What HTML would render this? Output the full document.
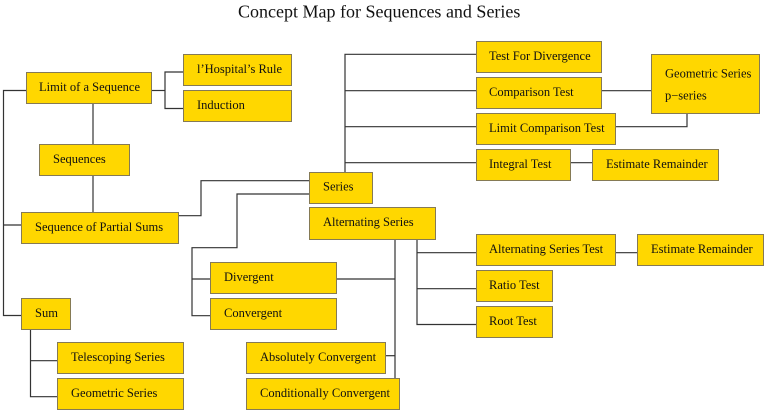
<!DOCTYPE html>
<html><head><meta charset="utf-8"><style>
html,body{margin:0;padding:0;background:#fff;}
svg{display:block;}
text{font-family:"Liberation Serif","Times New Roman",serif;fill:#111;}
.b{fill:#ffd700;stroke:#857a55;stroke-width:1;}
.l{stroke:#333;stroke-width:1.2;fill:none;}
.t{font-size:12.5px;}
</style></head><body>
<svg width="767" height="413" viewBox="0 0 767 413" xmlns="http://www.w3.org/2000/svg">
<text x="238" y="17.5" style="font-size:18px">Concept Map for Sequences and Series</text>

<g class="l">
<polyline points="26,90.5 3.5,90.5 3.5,315.5 21,315.5"/>
<line x1="3.5" y1="225" x2="21" y2="225"/>
<polyline points="152,90.5 165,90.5"/>
<polyline points="183,72 165,72 165,108.5 183,108.5"/>
<line x1="93" y1="104" x2="93" y2="144"/>
<line x1="93" y1="176" x2="93" y2="212"/>
<polyline points="179,215.7 201,215.7 201,180.7 309,180.7"/>
<polyline points="309,194 237,194 237,247.7 192,247.7 192,315.7 210,315.7"/>
<line x1="192" y1="279" x2="210" y2="279"/>
<polyline points="476,54.3 345,54.3 345,172"/>
<line x1="345" y1="90.7" x2="476" y2="90.7"/>
<line x1="345" y1="126.7" x2="476" y2="126.7"/>
<line x1="345" y1="162.7" x2="476" y2="162.7"/>
<line x1="602" y1="90.7" x2="651" y2="90.7"/>
<polyline points="615,126.7 687,126.7 687,113"/>
<line x1="570" y1="162.7" x2="592" y2="162.7"/>
<line x1="395" y1="239" x2="395" y2="378"/>
<line x1="336" y1="279" x2="395" y2="279"/>
<line x1="386" y1="355.7" x2="395" y2="355.7"/>
<polyline points="417,239 417,324.5 476,324.5"/>
<line x1="417" y1="252.7" x2="476" y2="252.7"/>
<line x1="417" y1="288.7" x2="476" y2="288.7"/>
<line x1="615" y1="252.7" x2="637" y2="252.7"/>
<polyline points="30.5,329 30.5,396.7 57,396.7"/>
<line x1="30.5" y1="360.7" x2="57" y2="360.7"/>
</g>

<g>
<rect class="b" x="26.5" y="72.5" width="125" height="31"/>
<text class="t" x="39" y="91">Limit of a Sequence</text>
<rect class="b" x="183.5" y="54.5" width="108" height="31"/>
<text class="t" x="197" y="73">l’Hospital’s Rule</text>
<rect class="b" x="183.5" y="90.5" width="108" height="31"/>
<text class="t" x="197" y="109">Induction</text>
<rect class="b" x="39.5" y="144.5" width="90" height="31"/>
<text class="t" x="53" y="163">Sequences</text>
<rect class="b" x="21.5" y="212.5" width="157" height="31"/>
<text class="t" x="35" y="231">Sequence of Partial Sums</text>
<rect class="b" x="21.5" y="298.5" width="49" height="31"/>
<text class="t" x="35" y="317">Sum</text>
<rect class="b" x="57.5" y="342.5" width="126" height="31"/>
<text class="t" x="71" y="361">Telescoping Series</text>
<rect class="b" x="57.5" y="378.5" width="126" height="31"/>
<text class="t" x="71" y="397">Geometric Series</text>
<rect class="b" x="309.5" y="172.5" width="63" height="31"/>
<text class="t" x="323" y="190.5">Series</text>
<rect class="b" x="309.5" y="207.5" width="126" height="32"/>
<text class="t" x="323" y="226">Alternating Series</text>
<rect class="b" x="210.5" y="262.5" width="126" height="31"/>
<text class="t" x="224" y="281">Divergent</text>
<rect class="b" x="210.5" y="298.5" width="126" height="31"/>
<text class="t" x="224" y="317">Convergent</text>
<rect class="b" x="246.5" y="342.5" width="139" height="31"/>
<text class="t" x="260" y="361">Absolutely Convergent</text>
<rect class="b" x="246.5" y="378.5" width="153" height="31"/>
<text class="t" x="260" y="397">Conditionally Convergent</text>
<rect class="b" x="476.5" y="41.5" width="125" height="31"/>
<text class="t" x="489" y="60">Test For Divergence</text>
<rect class="b" x="476.5" y="77.5" width="125" height="31"/>
<text class="t" x="489" y="96">Comparison Test</text>
<rect class="b" x="476.5" y="113.5" width="139" height="31"/>
<text class="t" x="489" y="132">Limit Comparison Test</text>
<rect class="b" x="476.5" y="149.5" width="94" height="31"/>
<text class="t" x="489" y="168">Integral Test</text>
<rect class="b" x="592.5" y="149.5" width="126" height="31"/>
<text class="t" x="606" y="168">Estimate Remainder</text>
<rect class="b" x="651.5" y="54.5" width="108" height="59"/>
<text class="t" x="665" y="77.5">Geometric Series</text>
<text class="t" x="665" y="99.5">p−series</text>
<rect class="b" x="476.5" y="234.5" width="139" height="31"/>
<text class="t" x="489" y="253">Alternating Series Test</text>
<rect class="b" x="637.5" y="234.5" width="126" height="31"/>
<text class="t" x="651" y="253">Estimate Remainder</text>
<rect class="b" x="476.5" y="270.5" width="76" height="31"/>
<text class="t" x="489" y="289">Ratio Test</text>
<rect class="b" x="476.5" y="306.5" width="76" height="31"/>
<text class="t" x="489" y="325">Root Test</text>
</g>
</svg>
</body></html>
